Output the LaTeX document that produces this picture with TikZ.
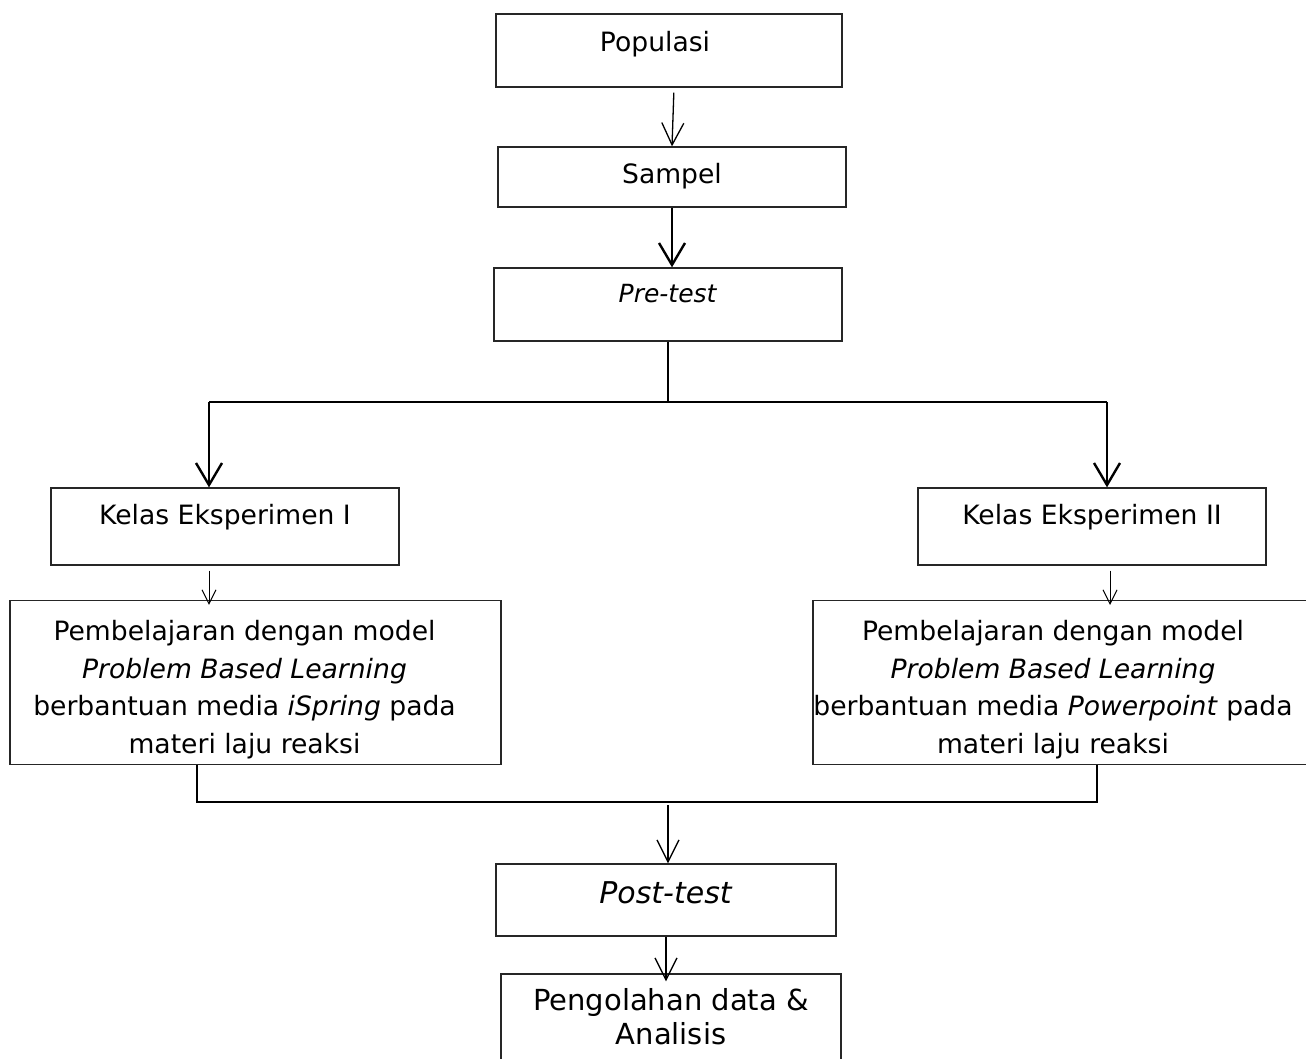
\documentclass[tikz,border=0pt]{standalone}
\usepackage{fontspec}
\setmainfont{DejaVu Sans}
\usetikzlibrary{arrows.meta}

\begin{document}
\begin{tikzpicture}[
    x=0.5pt, y=-0.5pt,
    box/.style={rectangle, draw=black!85, line width=0.65pt, inner sep=0pt, align=center, font=\fontsize{13.3}{18.75}\selectfont},
    line/.style={line width=0.65pt},
    arrow/.style={-{Straight Barb[length=11pt, width=11pt]}, line width=0.65pt},
    smallarrow/.style={-{Straight Barb[length=7pt, width=7pt]}, line width=0.5pt},
    thickarrow/.style={-{Straight Barb[length=11pt, width=13pt]}, line width=1.2pt}
]
\useasboundingbox (0,0) rectangle (1306,1059);

\node[box, minimum width=173pt, text height=19pt, text depth=17.5pt] (pop) at (669,50.5) {Populasi\kern14pt};
\node[box, minimum width=174pt, text height=18.5pt, text depth=11.5pt] (samp) at (672,177) {Sampel};
\node[box, minimum width=174pt, text height=17pt, text depth=19.5pt, font=\fontsize{12.5}{15}\selectfont] (pre) at (668,304.5) {\textit{Pre-test}};

\node[box, minimum width=174pt, text height=18pt, text depth=20.5pt] (k1) at (225,526.5) {Kelas Eksperimen I};
\node[box, minimum width=174pt, text height=18pt, text depth=20.5pt] (k2) at (1092,526.5) {Kelas Eksperimen II};

\node[box, minimum width=245.5pt, minimum height=81.5pt] (p1) at (255.5,682.5)
    {\begin{tabular}{@{}c@{}}\rule{0pt}{20pt}Pembelajaran dengan model\\ \textit{Problem Based Learning}\\ berbantuan media \textit{iSpring} pada\\ materi laju reaksi\end{tabular}\kern11pt};
\node[box, minimum width=247.5pt, minimum height=81.5pt] (p2) at (1060.5,682.5)
    {\begin{tabular}{@{}c@{}}\rule{0pt}{20pt}Pembelajaran dengan model\\ \textit{Problem Based Learning}\\ berbantuan media \textit{Powerpoint} pada\\ materi laju reaksi\end{tabular}\kern7.5pt};

\node[box, minimum width=170pt, text height=19.5pt, text depth=16.5pt, font=\fontsize{15}{18}\selectfont] (post) at (666,900) {\textit{Post-test}};
\node[box, minimum width=170pt, minimum height=54pt, font=\fontsize{14.5}{17}\selectfont] (peng) at (671,1028)
    {\begin{tabular}{@{}c@{}}Pengolahan data \&\\ Analisis\rule[-12pt]{0pt}{0pt}\end{tabular}};

% split and join points
\coordinate (split) at (668,402);
\coordinate (sl) at (209,402);
\coordinate (sr) at (1107,402);
\coordinate (join) at (668,802);
\coordinate (jl) at (197,802);
\coordinate (jr) at (1097,802);

\draw[arrow, shorten <=2.5pt] ([xshift=2.5pt]pop.south) -- (samp.north);
\draw[thickarrow] (samp.south) -- (samp.south |- pre.north);
\draw[line] (pre.south) -- (split);
\draw[line] (sl) -- (sr);
\draw[thickarrow] (sl) -- (k1.north -| sl);
\draw[thickarrow] (sr) -- (k2.north -| sr);
\draw[smallarrow, shorten <=2.5pt, shorten >=-2.5pt] (k1.south -| sl) -- (p1.north -| sl);
\draw[smallarrow, shorten <=2.5pt, shorten >=-2.5pt] ([xshift=1.5pt]k2.south -| sr) -- ([xshift=1.5pt]p2.north -| sr);
\draw[line] (p1.south -| jl) -- (jl) -- (jr) -- (p2.south -| jr);
\draw[arrow, shorten <=1.5pt] (join) -- (post.north -| join);
\draw[arrow, shorten >=-4pt] (post.south) -- (peng.north -| post.south);
\end{tikzpicture}
\end{document}
